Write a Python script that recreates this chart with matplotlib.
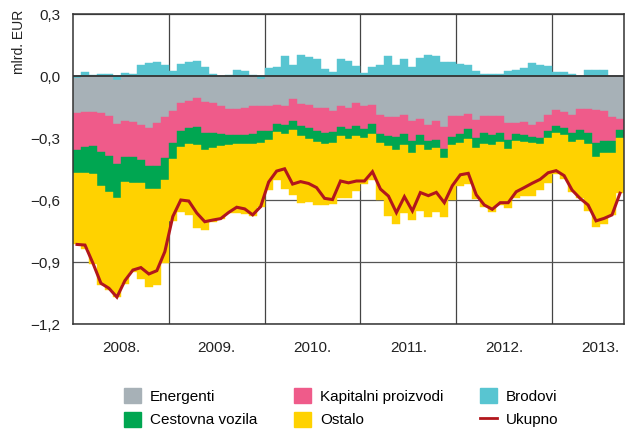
import numpy as np
import matplotlib
matplotlib.use('Agg')
from matplotlib import pyplot as plt
from matplotlib.patches import Patch
from matplotlib.lines import Line2D

plt.rcParams['font.family'] = ['Liberation Sans Narrow', 'Liberation Sans', 'DejaVu Sans']

# mjesecni podaci, sijecanj 2008. - rujan 2013., mlrd. EUR
godine = ['2008.', '2009.', '2010.', '2011.', '2012.', '2013.']

brodovi = [-0.010, 0.020, 0.005, 0.008, 0.008, -0.020, 0.015, 0.010, 0.053, 0.061, 0.069, 0.053,
           0.024, 0.056, 0.066, 0.073, 0.042, 0.010, 0.000, 0.003, 0.029, 0.024, 0.005, -0.016,
           0.040, 0.045, 0.097, 0.053, 0.104, 0.090, 0.083, 0.033, 0.020, 0.081, 0.072, 0.050,
           0.013, 0.042, 0.053, 0.097, 0.053, 0.081, 0.043, 0.089, 0.103, 0.097, 0.067, 0.067,
           0.056, 0.053, 0.022, 0.012, 0.011, 0.010, 0.025, 0.029, 0.040, 0.062, 0.053, 0.049,
           0.018, 0.018, 0.008, 0.000, 0.029, 0.029, 0.029, 0.000, 0.000]

energenti = [-0.171, -0.174, -0.175, -0.178, -0.194, -0.212, -0.218, -0.224, -0.239, -0.250, -0.229, -0.198,
             -0.168, -0.129, -0.119, -0.105, -0.127, -0.129, -0.145, -0.160, -0.161, -0.157, -0.146, -0.129,
             -0.145, -0.141, -0.144, -0.112, -0.135, -0.141, -0.156, -0.154, -0.167, -0.145, -0.157, -0.131,
             -0.146, -0.139, -0.189, -0.200, -0.198, -0.189, -0.220, -0.209, -0.237, -0.217, -0.249, -0.193,
             -0.194, -0.185, -0.215, -0.194, -0.195, -0.193, -0.228, -0.225, -0.223, -0.235, -0.221, -0.187,
             -0.166, -0.176, -0.187, -0.160, -0.161, -0.164, -0.168, -0.197, -0.208]

kapitalni = [-0.177, -0.171, -0.162, -0.191, -0.191, -0.194, -0.176, -0.166, -0.167, -0.184, -0.205, -0.200,
             -0.158, -0.139, -0.133, -0.140, -0.148, -0.146, -0.137, -0.125, -0.125, -0.127, -0.134, -0.123,
             -0.123, -0.090, -0.091, -0.105, -0.106, -0.109, -0.110, -0.121, -0.105, -0.102, -0.101, -0.110,
             -0.111, -0.093, -0.091, -0.090, -0.099, -0.092, -0.094, -0.076, -0.078, -0.091, -0.104, -0.101,
             -0.088, -0.071, -0.083, -0.081, -0.090, -0.081, -0.082, -0.056, -0.062, -0.059, -0.077, -0.079,
             -0.076, -0.077, -0.090, -0.101, -0.116, -0.159, -0.147, -0.118, -0.053]

vozila = [-0.113, -0.123, -0.139, -0.161, -0.175, -0.166, -0.121, -0.126, -0.113, -0.113, -0.113, -0.105,
          -0.074, -0.074, -0.079, -0.087, -0.083, -0.072, -0.056, -0.051, -0.045, -0.047, -0.051, -0.054,
          -0.042, -0.040, -0.044, -0.044, -0.049, -0.054, -0.054, -0.053, -0.050, -0.043, -0.048, -0.048,
          -0.045, -0.047, -0.042, -0.047, -0.063, -0.055, -0.057, -0.049, -0.045, -0.042, -0.045, -0.042,
          -0.041, -0.049, -0.052, -0.056, -0.049, -0.047, -0.043, -0.034, -0.033, -0.032, -0.033, -0.032,
          -0.032, -0.032, -0.041, -0.049, -0.052, -0.067, -0.059, -0.059, -0.041]

ostalo = [-0.344, -0.370, -0.435, -0.481, -0.475, -0.478, -0.490, -0.433, -0.461, -0.472, -0.464, -0.400,
          -0.304, -0.314, -0.340, -0.404, -0.389, -0.360, -0.352, -0.327, -0.333, -0.336, -0.346, -0.310,
          -0.243, -0.234, -0.267, -0.315, -0.325, -0.306, -0.303, -0.297, -0.296, -0.299, -0.283, -0.269,
          -0.219, -0.226, -0.278, -0.341, -0.354, -0.329, -0.325, -0.319, -0.322, -0.310, -0.282, -0.262,
          -0.211, -0.219, -0.247, -0.305, -0.322, -0.302, -0.285, -0.274, -0.262, -0.255, -0.222, -0.219,
          -0.202, -0.215, -0.242, -0.282, -0.324, -0.340, -0.344, -0.298, -0.265]

boje = {'Energenti': '#a7b1b7', 'Kapitalni proizvodi': '#ef5b8a', 'Brodovi': '#58c5d1',
        'Cestovna vozila': '#00a651', 'Ostalo': '#ffd200', 'Ukupno': '#b2161c'}

brodovi = np.array(brodovi)
x = np.arange(len(brodovi))
ukupno = brodovi + np.array(energenti) + np.array(kapitalni) + np.array(vozila) + np.array(ostalo)

fig = plt.figure(figsize=(6.28, 4.32), dpi=100)
ax = fig.add_axes([73 / 628, 108 / 432, 551 / 628, 310 / 432])

# brodovi idu prvi od nule (pozitivno gore, negativno dolje), ostalo se slaze ispod
baza = np.minimum(brodovi, 0)
ax.bar(x, brodovi, width=1.0, color=boje['Brodovi'], edgecolor=boje['Brodovi'], lw=0.3, zorder=2)
for ime, vr in [('Energenti', energenti), ('Kapitalni proizvodi', kapitalni),
                ('Cestovna vozila', vozila), ('Ostalo', ostalo)]:
    vr = np.array(vr)
    ax.bar(x, vr, bottom=baza, width=1.0, color=boje[ime], edgecolor=boje[ime], lw=0.3, zorder=2)
    baza = baza + vr

ax.plot(x, ukupno, color=boje['Ukupno'], lw=2.2, zorder=4, solid_joinstyle='miter')
ax.axhline(0, color='#333333', lw=1.3, zorder=3)

ax.set_xlim(-0.5, len(x) - 0.5)
ax.set_ylim(-1.2, 0.3)
ax.set_yticks([0.3, 0.0, -0.3, -0.6, -0.9, -1.2])
ax.set_yticklabels(['0,3', '0,0', '\u22120,3', '\u22120,6', '\u22120,9', '\u22121,2'])
ax.set_xticks([12 * k + 5.5 for k in range(len(godine))])
ax.set_xticklabels(godine)
ax.set_xticks([12 * k - 0.5 for k in range(1, len(godine))], minor=True)
ax.tick_params(axis='both', which='both', length=0, labelsize=11, colors='#222222')
ax.tick_params(axis='y', pad=9)
ax.tick_params(axis='x', pad=12)
ax.set_axisbelow(True)
ax.yaxis.grid(True, color='#555555', lw=0.9)
ax.xaxis.grid(True, which='minor', color='#444444', lw=0.9)
for s in ax.spines.values():
    s.set_color('#333333')
    s.set_linewidth(1.1)

fig.text(0.031, 0.977, 'mlrd. EUR', rotation=90, va='top', ha='center', fontsize=10, color='#222222')

ruke = [Patch(color=boje['Energenti']), Patch(color=boje['Cestovna vozila']),
        Patch(color=boje['Kapitalni proizvodi']), Patch(color=boje['Ostalo']),
        Patch(color=boje['Brodovi']), Line2D([0], [0], color=boje['Ukupno'], lw=2)]
imena = ['Energenti', 'Cestovna vozila', 'Kapitalni proizvodi', 'Ostalo', 'Brodovi', 'Ukupno']
fig.legend(ruke, imena, ncol=3, frameon=False, loc='upper left', bbox_to_anchor=(124 / 628, 1 - 388 / 432),
           fontsize=11, handlelength=1.1, handleheight=1.1, handletextpad=0.6, columnspacing=2.4,
           labelspacing=0.55, borderpad=0, borderaxespad=0)

fig.savefig('out.png', dpi=100)
